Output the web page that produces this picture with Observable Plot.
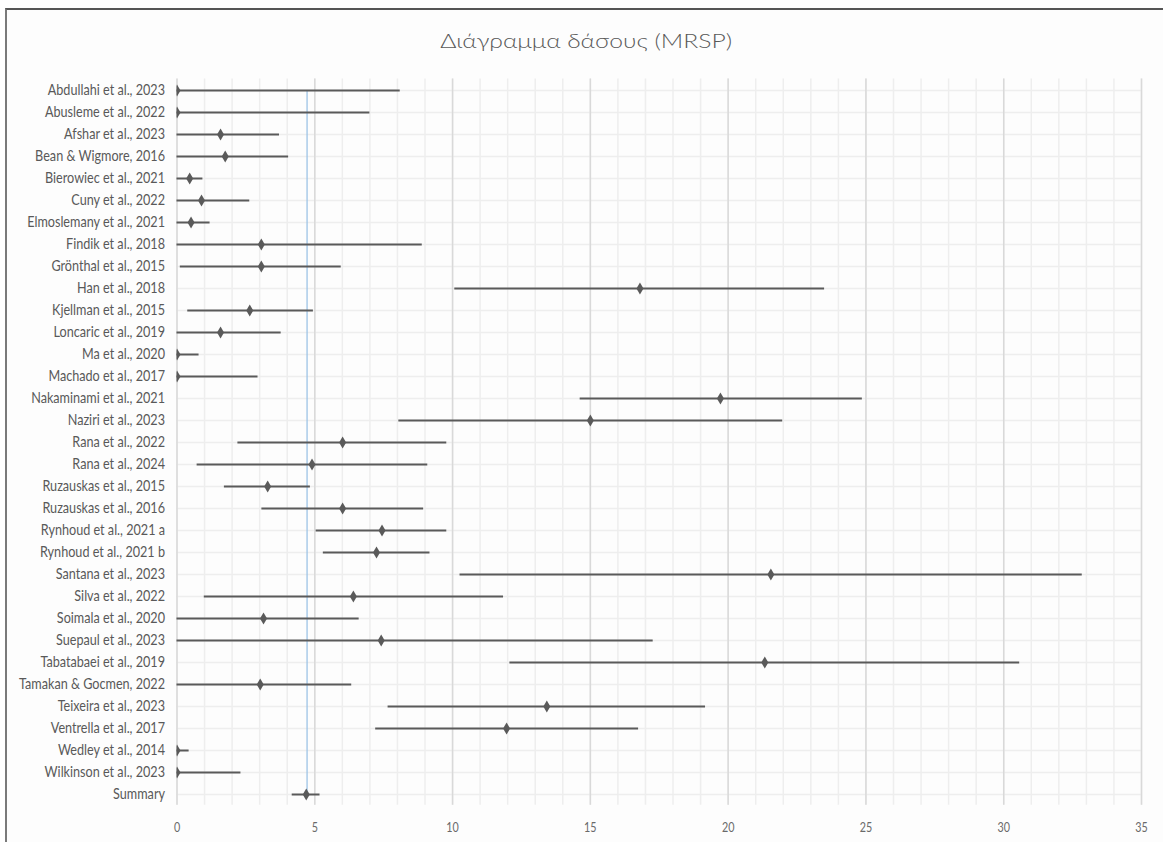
<!DOCTYPE html>
<html><head><meta charset="utf-8">
<script src="https://cdn.jsdelivr.net/npm/d3@7"></script>
<script src="https://cdn.jsdelivr.net/npm/@observablehq/plot@0.6"></script>
<style>
html,body{margin:0;padding:0;background:#fff;overflow:hidden;width:1163px;height:842px}
#wrap{position:relative;width:1163px;height:842px;overflow:hidden}
#frame{position:absolute;left:5px;top:8px;width:1250px;height:900px;border-left:2px solid #7a7a7a;border-top:2px solid #555;box-sizing:border-box;background:#fdfdfd}
#title{position:absolute;left:5px;width:1163px;top:31px;text-align:center;font-family:Lato,"Liberation Sans",sans-serif;font-weight:300;font-size:19px;line-height:20px;color:#595959}
#title span{display:inline-block;transform-origin:center}
#chart{position:absolute;left:0;top:0}
</style></head>
<body>
<div id="wrap">
<div id="frame"></div>
<div id="title"><span>Διάγραμμα δάσους (MRSP)</span></div>
<div id="chart"></div>
</div>
<script>
const studies = ["Abdullahi et al., 2023","Abusleme et al., 2022","Afshar et al., 2023","Bean & Wigmore, 2016","Bierowiec et al., 2021","Cuny et al., 2022","Elmoslemany et al., 2021","Findik et al., 2018","Grönthal et al., 2015","Han et al., 2018","Kjellman et al., 2015","Loncaric et al., 2019","Ma et al., 2020","Machado et al., 2017","Nakaminami et al., 2021","Naziri et al., 2023","Rana et al., 2022","Rana et al., 2024","Ruzauskas et al., 2015","Ruzauskas et al., 2016","Rynhoud et al., 2021 a","Rynhoud et al., 2021 b","Santana et al., 2023","Silva et al., 2022","Soimala et al., 2020","Suepaul et al., 2023","Tabatabaei et al., 2019","Tamakan & Gocmen, 2022","Teixeira et al., 2023","Ventrella et al., 2017","Wedley et al., 2014","Wilkinson et al., 2023","Summary"];
const estimate = [0,0,1.58,1.75,0.46,0.89,0.51,3.06,3.06,16.8,2.64,1.58,0,0,19.72,15.0,6.01,4.9,3.29,6.01,7.44,7.24,21.55,6.4,3.14,7.41,21.33,3.02,13.42,11.96,0,0,4.69];
const lower = [0,0,0,0,0,0,0,0,0.12,10.08,0.39,0,0,0,14.63,8.05,2.21,0.73,1.72,3.08,5.05,5.31,10.27,0.99,0,0,12.08,0,7.66,7.21,0,0,4.18];
const upper = [8.1,7.0,3.72,4.05,0.94,2.64,1.2,8.9,5.96,23.5,4.95,3.78,0.8,2.94,24.87,21.98,9.79,9.1,4.84,8.95,9.79,9.18,32.85,11.85,6.61,17.28,30.58,6.34,19.18,16.75,0.44,2.32,5.19];
const summaryLine = [4.72];
const xTicks = [0,5,10,15,20,25,30,35];
const minorTicks = d3.range(0,36,1);

const rows = studies.map((s,i)=>({study:s, est:estimate[i], lo:lower[i], hi:upper[i]}));
const font = 'Lato,"Liberation Sans",sans-serif';

const chart = Plot.plot({
  width:1163, height:842,
  marginLeft:176.5, marginRight:22, marginTop:78.5, marginBottom:37.3,
  style:{fontFamily:font, color:"#595959", background:"transparent", overflow:"visible"},
  x:{domain:[0,35], label:null},
  y:{type:"point", domain:studies, padding:0.5, label:null},
  marks:[
    Plot.ruleY(studies, {y:d=>d, x1:0, x2:35, stroke:"#eeeeee", strokeWidth:1.5}),
    Plot.ruleX(minorTicks, {x:d=>d, stroke:"#eeeeee", strokeWidth:1.5}),
    Plot.ruleX(xTicks, {x:d=>d, stroke:"#d9d9d9", strokeWidth:1.5}),
    Plot.ruleX(summaryLine, {x:d=>d, y1:()=>studies[0], y2:()=>"Summary", stroke:"#9dc3e6", strokeWidth:1.3}),
    Plot.ruleY(rows, {y:"study", x1:"lo", x2:"hi", stroke:"#5a5a5a", strokeWidth:2}),
    Plot.dot(rows, {x:"est", y:"study", symbol:"diamond", r:3.7, fill:"#5a5a5a", stroke:"none", clip:true}),
    Plot.axisX({ticks:xTicks, tickSize:0, tickPadding:17, fontSize:14, label:null, fill:"#6a6a6a"}),
    Plot.axisY({tickSize:0, tickPadding:12, fontSize:15.5, label:null, fill:"#595959"})
  ]
});
document.getElementById("chart").appendChild(chart);

function squeeze(texts, k){
  texts.forEach(t=>{
    const tr = t.getAttribute("transform");
    if (tr) t.setAttribute("transform", tr + ` scale(${k},1)`);
    else {
      const x = +(t.getAttribute("x")||0);
      t.setAttribute("transform", `translate(${x},0) scale(${k},1) translate(${-x},0)`);
    }
  });
}
const allTexts = Array.from(chart.querySelectorAll("text"));
const yTexts = allTexts.filter(t=>studies.includes(t.textContent));
const xTexts = allTexts.filter(t=>xTicks.map(String).includes(t.textContent));
const ref = yTexts.find(t=>t.textContent==="Elmoslemany et al., 2021");
if (ref) squeeze(yTexts, 138/ref.getBBox().width);
const ref10 = xTexts.find(t=>t.textContent==="10");
if (ref10) squeeze(xTexts, 12.5/ref10.getBBox().width);
const span = document.querySelector("#title span");
span.style.transform = `scaleX(${292/span.getBoundingClientRect().width})`;
</script>
</body></html>
